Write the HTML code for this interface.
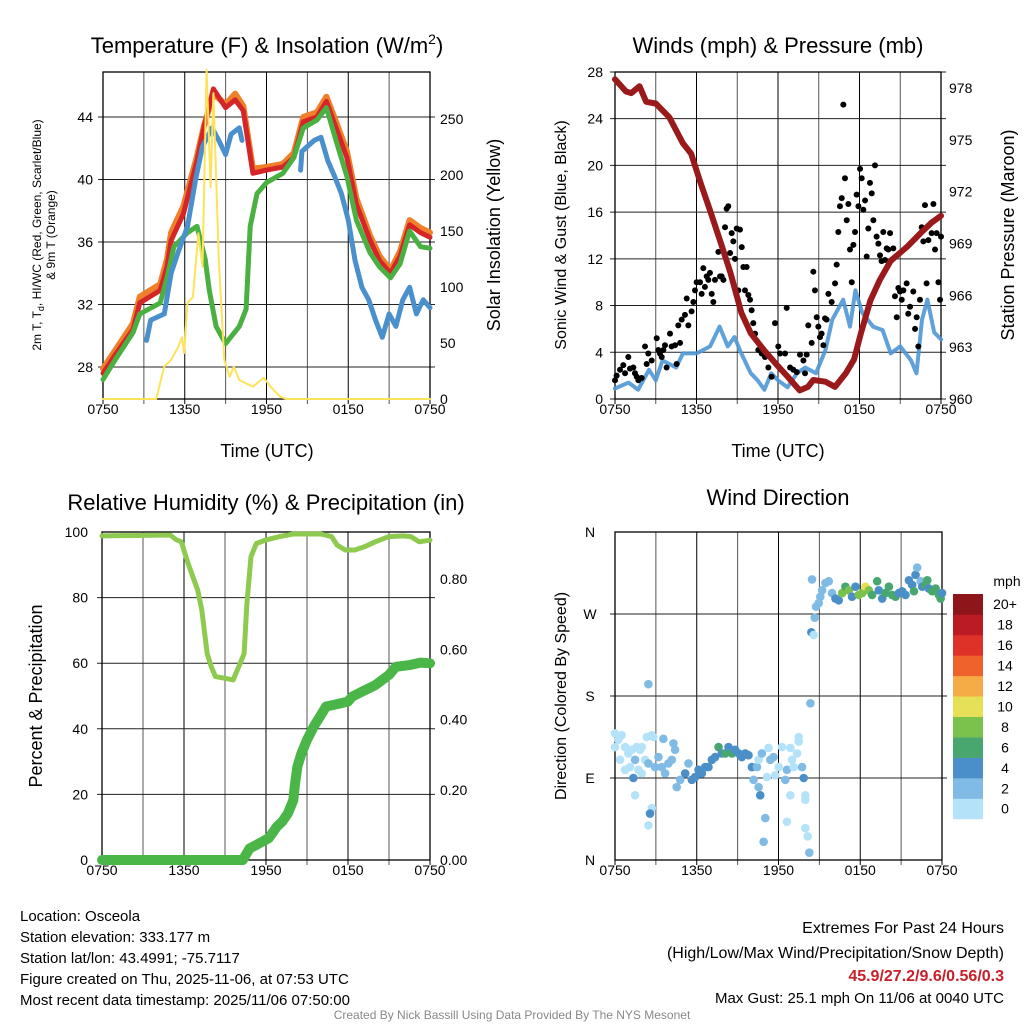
<!DOCTYPE html>
<html><head><meta charset="utf-8">
<style>
html,body{margin:0;padding:0;background:#fff;}
body{width:1024px;height:1024px;overflow:hidden;font-family:"Liberation Sans",Arial,sans-serif;}
svg text{font-family:"Liberation Sans",Arial,sans-serif;}
</style></head>
<body>
<svg id="fig" width="1024" height="1024" viewBox="0 0 1024 1024" xmlns="http://www.w3.org/2000/svg">
<g id="g1"></g>
<g id="g2"></g>
<g id="g3"></g>
<g id="g4"></g>
<text x="267" y="53" font-size="22" text-anchor="middle">Temperature (F) &amp; Insolation (W/m<tspan font-size="14" dy="-9">2</tspan><tspan dy="9">)</tspan></text>
<text x="778" y="53" font-size="22" text-anchor="middle">Winds (mph) &amp; Pressure (mb)</text>
<text x="266" y="510" font-size="22" text-anchor="middle">Relative Humidity (%) &amp; Precipitation (in)</text>
<text x="778" y="505" font-size="22" text-anchor="middle">Wind Direction</text>
<text x="267" y="457" font-size="18" text-anchor="middle">Time (UTC)</text>
<text x="778" y="457" font-size="18" text-anchor="middle">Time (UTC)</text>
<text transform="translate(41,235) rotate(-90)" font-size="12" text-anchor="middle">2m T, T<tspan font-size="9" dy="3">d</tspan><tspan dy="-3">, HI/WC (Red, Green, Scarlet/Blue)</tspan></text>
<text transform="translate(55,235) rotate(-90)" font-size="12" text-anchor="middle">&amp; 9m T (Orange)</text>
<text transform="translate(500,235) rotate(-90)" font-size="18" text-anchor="middle">Solar Insolation (Yellow)</text>
<text transform="translate(566,235) rotate(-90)" font-size="16" text-anchor="middle">Sonic Wind &amp; Gust (Blue, Black)</text>
<text transform="translate(1014,235) rotate(-90)" font-size="18" text-anchor="middle">Station Pressure (Maroon)</text>
<text transform="translate(42,696) rotate(-90)" font-size="18" text-anchor="middle">Percent &amp; Precipitation</text>
<text transform="translate(566,696) rotate(-90)" font-size="16" text-anchor="middle">Direction (Colored By Speed)</text>
<g font-size="15">
<text x="20" y="921">Location: Osceola</text>
<text x="20" y="942">Station elevation: 333.177 m</text>
<text x="20" y="963">Station lat/lon: 43.4991; -75.7117</text>
<text x="20" y="984">Figure created on Thu, 2025-11-06, at 07:53 UTC</text>
<text x="20" y="1005">Most recent data timestamp: 2025/11/06 07:50:00</text>
</g>
<g font-size="16" text-anchor="end">
<text x="1004" y="933">Extremes For Past 24 Hours</text>
<text x="1004" y="958">(High/Low/Max Wind/Precipitation/Snow Depth)</text>
<text x="1004" y="981" fill="#c8202a" font-weight="bold">45.9/27.2/9.6/0.56/0.3</text>
<text x="1004" y="1003" font-size="15">Max Gust: 25.1 mph On 11/06 at 0040 UTC</text>
</g>
<text x="512" y="1019" font-size="12" fill="#888" text-anchor="middle">Created By Nick Bassill Using Data Provided By The NYS Mesonet</text>
</svg>
<script>
// ---- data ----
const xTickLabels = ["0750","1350","1950","0150","0750"];
const tempHours = [0,1,2.2,2.7,4.2,4.7,5,5.9,6.9,7.4,8.1,9,9.7,10.3,11,12,13.2,14,14.7,15.7,16.4,17.1,17.9,18.6,19.6,20.3,21.1,21.8,22.5,23.3,24];
const redTemp = [27.6,28.9,30.4,32.1,32.9,34.4,36.1,37.8,41.2,43.3,45.8,44.6,45.1,44.4,40.4,40.6,40.8,41.4,43.7,44.0,45.0,43.3,41.4,38.4,36.1,34.8,34.0,35.1,37.1,36.6,36.3];
const orangeTemp = [27.9,29.2,30.8,32.5,33.3,34.9,36.6,38.3,41.5,43.4,45.5,44.8,45.5,44.7,40.7,40.8,41.0,41.7,44.0,44.3,45.3,43.7,41.8,38.8,36.4,35.1,34.2,35.4,37.4,36.9,36.6];
const greenHours = [0,1,2.2,2.7,4.2,4.7,5.2,6.2,6.9,7.5,7.8,8.3,9,10,10.5,10.8,11.3,12,13.2,14,14.7,15.7,16.4,17.1,17.9,18.6,19.6,20.3,21.1,21.8,22.5,23.3,24];
const greenDew = [27.2,28.6,30.2,31.4,32.1,33.7,35.7,36.6,37.0,34.9,32.9,30.6,29.5,30.6,31.7,37.0,39.1,39.8,40.4,41.4,43.3,43.8,44.6,42.5,40.2,37.4,35.3,34.4,33.7,34.6,36.7,35.7,35.6];
const blueHours = [3.2,3.5,4.5,5,5.5,6.2,6.8,7.3,8,8.5,9,9.4,10,10.2,null,14.5,14.6,15.5,16,16.5,17,17.5,18,18.5,19,19.5,20,20.5,21,21.5,22,22.5,23,23.5,24];
const blueIndex = [29.7,31.0,31.4,34.0,35.3,37.0,40.0,42.1,43.3,42.5,41.6,42.9,43.3,42.5,null,40.6,41.8,42.5,42.7,41.2,40.2,39.1,37.4,34.8,33.1,32.3,31.0,29.9,31.4,30.6,32.3,33.1,31.4,32.3,31.8];
const solarHours = [0,3.9,4.5,5,5.5,5.8,5.95,6.2,6.6,7,7.3,7.6,7.9,8.1,8.5,8.9,9.3,9.6,10,11,11.8,12.3,13,13.5,24];
const solarValues = [0,0,29,35,46,55,41,86,91,148,118,294,189,273,124,35,20,29,17,11,19,11,2,0,0];
const windHours = [0,1,1.7,2.5,3,3.5,4.5,5,6,7,7.7,8.3,8.8,9.3,10,10.5,11,11.5,12,12.7,13.4,14,14.8,15.5,16,16.8,17.3,17.7,18.2,19,19.7,20.3,21,21.8,22.2,22.6,23,23.5,24];
const windSpeed = [0.9,1.4,0.8,2.5,1.6,3.3,2.7,3.9,3.9,4.5,6.2,4.5,5.3,3.9,2.2,1.6,0.8,2.2,1.6,1.0,2.2,2.7,2.2,4.2,6.8,8.5,6.2,9.3,7.4,6.2,5.9,3.9,4.5,3.3,2.2,6.8,8.5,5.7,5.1];
const gustHours = [0,0.12,0.37,0.61,0.74,0.98,1.1,1.35,1.47,1.6,1.72,1.96,2.21,2.33,2.45,2.7,3.07,3.19,3.31,3.44,3.56,3.68,3.8,4.05,4.17,4.42,4.54,4.66,4.79,4.91,5.15,5.28,5.4,5.64,5.77,5.89,6.01,6.26,6.38,6.5,6.62,6.75,6.87,6.99,7.12,7.24,7.36,7.61,7.73,7.85,7.98,8.1,8.22,8.34,8.47,8.59,8.71,8.83,8.96,9.08,9.2,9.33,9.45,9.57,9.69,9.82,9.94,10.06,10.18,10.31,10.43,10.55,10.8,11.04,11.29,11.53,11.78,12.02,12.15,12.52,12.64,12.89,13.13,13.38,13.62,13.87,13.99,14.11,14.23,14.48,14.6,14.72,14.85,14.97,15.09,15.21,15.34,15.46,15.58,15.71,15.95,16.2,16.32,16.44,16.56,16.69,16.81,16.93,17.06,17.18,17.3,17.43,17.55,17.67,17.79,17.92,18.04,18.16,18.28,18.41,18.53,18.65,18.77,18.9,19.02,19.14,19.26,19.39,19.51,19.63,19.75,19.88,20.0,20.12,20.25,20.37,20.49,20.61,20.74,20.86,20.98,21.11,21.23,21.47,21.59,21.72,21.96,22.09,22.21,22.33,22.45,22.58,22.7,22.82,22.94,23.07,23.31,23.44,23.56,23.68,23.81,23.93,24.0];
const gustSpeed = [1.6,2.0,2.5,2.9,2.2,3.6,2.6,2.7,2.2,1.9,1.6,1.8,4.5,3.0,3.9,3.3,5.2,4.2,3.9,3.6,4.2,4.6,2.7,5.6,4.5,4.6,3.0,6.3,4.8,6.8,7.2,8.6,6.3,7.5,8.3,9.3,10.0,10.0,9.0,11.2,9.6,10.5,10.2,10.8,9.0,8.3,10.2,12.6,10.5,10.5,10.2,14.7,16.3,16.5,12.5,14.2,13.5,12.0,14.6,9.3,14.5,13.0,11.3,9.3,11.3,8.9,8.5,7.6,6.5,5.6,5.0,4.2,3.9,3.6,2.7,1.9,6.5,4.5,3.9,3.9,7.8,2.7,2.5,2.3,3.8,3.3,2.2,3.8,6.3,4.8,10.9,9.3,7.0,6.2,5.3,5.6,4.6,6.9,6.8,9.0,8.3,9.9,11.5,14.3,16.5,17.2,25.2,18.9,15.3,16.7,12.8,10.0,13.2,14.3,17.5,16.5,19.7,18.9,16.2,17.0,12.2,14.6,18.5,17.6,15.3,20.0,13.9,13.3,12.3,11.8,14.3,11.9,12.9,12.8,14.2,11.9,12.9,8.8,7.0,9.5,9.2,8.5,9.3,9.9,7.3,7.9,9.2,6.0,7.0,4.5,8.5,14.7,13.5,16.6,9.9,13.6,14.2,16.7,12.8,14.2,10.0,8.5,13.9];
const presHours = [0,0.8,1.2,1.8,2.3,3,4,5,5.6,6.3,7,7.8,8.5,9.3,10,11,12,12.7,13.6,14.2,14.6,15.5,16.2,17,17.6,18.1,18.8,19.5,20.3,21.5,22.5,23.3,24];
const pressure = [978.5,977.8,977.7,978.1,977.2,977.1,976.3,974.8,974.2,972.5,970.9,969.0,967.3,965.0,963.8,962.8,961.9,961.3,960.5,960.7,961.1,961.0,960.7,961.5,962.3,963.8,965.7,966.9,968.0,968.8,969.6,970.2,970.6];
const rhHours = [0,5,5.4,5.8,6.3,7,7.3,7.7,8,8.3,9,9.6,10,10.4,10.6,10.9,11.3,12,13,14,16,16.8,17.2,17.8,18.5,19.2,20,21,22,22.6,23.2,24];
const rhValues = [98.8,99.1,97.7,97.0,90.4,82.3,76.2,62.9,58.9,55.9,55.4,54.9,58.9,62.9,78.2,92.5,96.5,97.6,98.6,99.4,99.4,98.6,96.0,94.5,94.5,95.5,97.0,98.6,98.8,98.6,97.0,97.5];
const precipHours = [0,10.3,10.8,11.3,12.2,12.8,13.2,13.6,14,14.1,14.3,14.6,15,15.5,16.1,16.4,17,18,18.3,19,20,21,21.5,22.5,23.3,24];
const precipValues = [0,0,0.033,0.043,0.062,0.095,0.11,0.133,0.17,0.209,0.266,0.304,0.342,0.38,0.418,0.437,0.442,0.451,0.465,0.479,0.498,0.527,0.55,0.555,0.562,0.56];
const dirHours = [0,0,0.25,0.49,0.74,0.98,1.23,1.47,1.59,1.84,1.96,2.21,2.33,2.45,2.7,2.82,2.94,3.19,3.43,3.55,3.68,3.92,4.17,4.29,4.41,0.74,1.1,1.35,1.47,2.7,2.57,2.45,2.45,0.37,1.72,1.96,
4.53,4.78,5.15,5.39,5.64,5.88,6.13,6.37,6.62,6.86,7.11,7.35,7.6,7.84,8.09,8.33,8.58,8.82,9.07,9.31,9.56,9.8,10.05,10.42,10.54,10.78,11.27,10.17,10.54,10.66,11.03,10.91,11.4,11.64,12.01,12.25,12.5,12.62,12.87,12.99,13.11,13.36,13.48,13.48,13.73,13.85,13.97,13.97,12.62,12.87,13.97,14.14,14.26,14.34,11.15,11.76,
14.41,14.58,14.66,14.75,14.95,15.07,15.2,15.44,14.46,15.69,15.93,16.18,16.42,16.67,16.91,17.16,17.4,17.65,17.89,18.14,18.38,18.63,18.87,19.24,19.36,19.61,19.85,20.1,20.34,20.59,20.83,21.08,21.32,21.57,21.81,22.06,22.18,22.43,22.55,22.79,22.92,23.04,23.28,23.53,23.77,23.9,24,21.94];
const dirDegrees = [139,124,132,137,124,117,121,110,124,121,124,110,135,106,137,135,102,113,102,133,95,106,110,128,121,99,102,90,71,57,51,38,193,110,99,95,
80,88,95,106,88,91,99,95,102,102,110,113,124,117,117,124,117,121,117,113,117,115,102,102,110,117,123,88,80,71,46,20,110,113,102,124,88,99,123,110,102,117,135,130,102,90,71,66,42,71,35,26,8,172,91,93,
250,247,266,278,282,289,296,304,308,306,293,287,285,293,300,296,289,300,291,293,300,296,291,306,296,287,293,300,291,289,293,295,291,307,302,313,321,306,300,302,307,298,295,298,291,287,293,295];
const dirSpeeds = [1,1,1,1,1,1,1,3,1,1,1,1,1,3,1,1,3,3,3,3,3,3,3,3,3,1,1,5,1,1,5,1,3,1,1,1,
3,3,5,3,5,5,5,5,5,5,5,5,7,5,7,5,7,5,5,5,5,5,5,3,1,3,1,3,3,5,3,3,3,3,1,1,3,3,1,1,1,1,1,1,3,5,1,1,1,1,1,1,3,3,1,1,5,
1,3,3,3,3,3,3,3,3,3,5,5,9,7,9,5,5,9,9,11,9,7,7,5,5,7,7,7,7,5,5,5,5,5,5,3,3,5,7,7,5,7,7,7,7,5,7,3];
const speedBins = ["0","2","4","6","8","10","12","14","16","18","20+"];
const binColors = ["#b4e2f8","#80bbe5","#4a8fc7","#48a66f","#7bc24c","#e6e058","#f5ab46","#ef622c","#de3127","#bb1c23","#8e151a"];

// ---- helpers ----
const NS="http://www.w3.org/2000/svg";
function el(tag,parent){const e=document.createElementNS(NS,tag);parent.appendChild(e);return e;}
function linePath(xs,ys,fx,fy){let d="",pen=false;for(let i=0;i<xs.length;i++){if(xs[i]===null||ys[i]===null){pen=false;continue;}d+=(pen?"L":"M")+fx(xs[i]).toFixed(1)+","+fy(ys[i]).toFixed(1);pen=true;}return d;}

function frame(g,L,T,R,B,fx,hlines,name){
  for(let h=0;h<=24;h+=3){
    const v=el("line",g);
    
    
    v.setAttribute("x1",fx(h));v.setAttribute("x2",fx(h));v.setAttribute("y1",T);v.setAttribute("y2",B+5);
    v.setAttribute("stroke",h%6===0?"#000":"#555");v.setAttribute("stroke-width","1");
  }
  hlines.forEach(y=>{
    const l=el("line",g);
    
    
    l.setAttribute("x1",L-5);l.setAttribute("x2",R+5);l.setAttribute("y1",y);l.setAttribute("y2",y);
    l.setAttribute("stroke","#222");l.setAttribute("stroke-width","1");
  });
  const r=el("rect",g);
  
  
  r.setAttribute("x",L);r.setAttribute("y",T);r.setAttribute("width",R-L);r.setAttribute("height",B-T);
  r.setAttribute("fill","none");r.setAttribute("stroke","#000");r.setAttribute("stroke-width","1.3");
  for(let i=0;i<xTickLabels.length;i++){
    const t=el("text",g);
    
    
    t.setAttribute("x",fx(i*6));t.setAttribute("y",B+15);t.setAttribute("font-size","14");t.setAttribute("text-anchor","middle");
    t.textContent=xTickLabels[i];
  }
}
function label(g,x,y,txt,anchor,name){
  const t=el("text",g);
  
  
  t.setAttribute("x",x);t.setAttribute("y",y+5);t.setAttribute("font-size","14");t.setAttribute("text-anchor",anchor);
  t.textContent=txt;
}
function stroke(g,d,color,w,name,op){
  const p=el("path",g);
  
  
  p.setAttribute("d",d);p.setAttribute("fill","none");p.setAttribute("stroke",color);p.setAttribute("stroke-width",w);
  p.setAttribute("stroke-linejoin","round");p.setAttribute("stroke-linecap","round");
  if(op)p.setAttribute("stroke-opacity",op);
}

// ---- panel 1 ----
(function(){
  const g=document.getElementById("g1");
  const L=103,R=430,T=72,B=399;
  const fx=h=>L+h*(R-L)/24, fy=v=>367-(v-28)*15.625, fs=w=>399-w*1.12;
  const tt=[28,32,36,40,44];
  frame(g,L,T,R,B,fx,tt.map(fy),"temp");
  tt.forEach(v=>label(g,L-10,fy(v),String(v),"end","temp-y-tick-label"));
  [0,50,100,150,200,250].forEach(v=>label(g,R+10,fs(v),String(v),"start","solar-y-tick-label"));
  stroke(g,linePath(tempHours,orangeTemp,fx,fy),"#f07f2a",6,"orange-9m-temp-line");
  stroke(g,linePath(tempHours,redTemp,fx,fy),"#d42528",5,"red-2m-temp-line");
  stroke(g,linePath(greenHours,greenDew,fx,fy),"#4bb042",5,"green-dewpoint-line");
  stroke(g,linePath(blueHours,blueIndex,fx,fy),"#4a90cc",5,"blue-heat-index-line");
  stroke(g,linePath(solarHours,solarValues,fx,fs),"#fde35a",2,"yellow-insolation-line");
})();

// ---- panel 2 ----
(function(){
  const g=document.getElementById("g2");
  const L=615,R=941,T=72,B=399;
  const fx=h=>L+h*(R-L)/24, fy=m=>399-m*11.68, fp=p=>399-(p-960)*17.28;
  const wt=[0,4,8,12,16,20,24,28];
  frame(g,L,T,R,B,fx,wt.map(fy),"winds");
  wt.forEach(v=>label(g,L-12,fy(v),String(v),"end","wind-y-tick-label"));
  [960,963,966,969,972,975,978].forEach(v=>label(g,R+8,fp(v),String(v),"start","pressure-y-tick-label"));
  stroke(g,linePath(windHours,windSpeed,fx,fy),"#4f97d6",4,"sonic-wind-line",0.9);
  for(let i=0;i<gustHours.length;i++){
    const c=el("circle",g);
    
    
    c.setAttribute("cx",fx(gustHours[i]));c.setAttribute("cy",fy(gustSpeed[i]));c.setAttribute("r","3");c.setAttribute("fill","#000");
  }
  stroke(g,linePath(presHours,pressure,fx,fp),"#9a1a1c",6,"pressure-line");
})();

// ---- panel 3 ----
(function(){
  const g=document.getElementById("g3");
  const L=102,R=430,T=532,B=860;
  const fx=h=>L+h*(R-L)/24, fy=v=>860-v*3.28, fp=p=>860-p*351.25;
  frame(g,L,T,R,B,fx,[20,40,60,80].map(fy),"humidity");
  [0,20,40,60,80,100].forEach(v=>label(g,L-14,fy(v),String(v),"end","humidity-y-tick-label"));
  [0,0.2,0.4,0.6,0.8].forEach(v=>label(g,R+10,fp(v),v.toFixed(2),"start","precip-y-tick-label"));
  stroke(g,linePath(rhHours,rhValues,fx,fy),"#8fca50",5,"relative-humidity-line");
  stroke(g,linePath(precipHours,precipValues,fx,fp),"#4ab648",10,"precipitation-line");
})();

// ---- panel 4 ----
(function(){
  const g=document.getElementById("g4");
  const L=615,R=942,T=532,B=860;
  const fx=h=>L+h*(R-L)/24, fy=d=>860-d*0.911;
  frame(g,L,T,R,B,fx,[90,180,270].map(fy),"direction");
  ["N","E","S","W","N"].forEach((s,i)=>label(g,590,fy(i*90),s,"middle","direction-y-tick-label"));
  for(let i=0;i<dirHours.length;i++){
    const c=el("circle",g);
    
    
    const bin=Math.min(10,Math.floor(dirSpeeds[i]/2));
    c.setAttribute("cx",fx(dirHours[i]));c.setAttribute("cy",fy(dirDegrees[i]));c.setAttribute("r","4.3");c.setAttribute("fill",binColors[bin]);
  }
  const top=594,bh=20.45,bx=953,bw=30;
  for(let i=0;i<speedBins.length;i++){
    const y=top+(10-i)*bh;
    const r=el("rect",g);
    
    
    r.setAttribute("x",bx);r.setAttribute("y",y);r.setAttribute("width",bw);r.setAttribute("height",bh+0.3);r.setAttribute("fill",binColors[i]);
    const t=el("text",g);
    
    
    t.setAttribute("x",1005);t.setAttribute("y",y+bh/2+5);t.setAttribute("font-size","14");t.setAttribute("text-anchor","middle");
    t.textContent=speedBins[i];
  }
  const m=el("text",g);
  
  
  m.setAttribute("x",1007);m.setAttribute("y",586);m.setAttribute("font-size","14");m.setAttribute("text-anchor","middle");
  m.textContent="mph";
})();
</script>
</body></html>
